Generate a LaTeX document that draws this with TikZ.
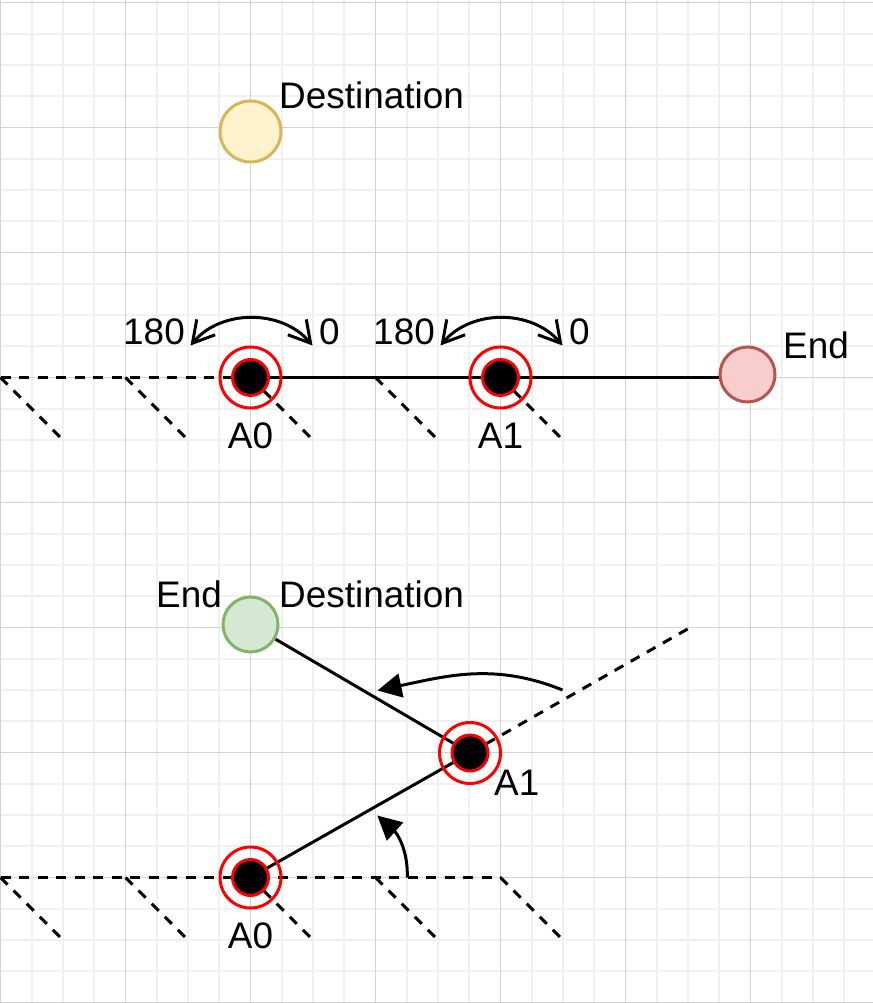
\documentclass[tikz,border=0pt]{standalone}
\usepackage{fontspec}
\setmainfont{Liberation Sans}
\usetikzlibrary{arrows.meta}
\pgfdeclarelayer{bg}
\pgfsetlayers{bg,main}
\definecolor{destfill}{HTML}{FFF2CC}
\definecolor{destline}{HTML}{D6B656}
\definecolor{endfill}{HTML}{F8CECC}
\definecolor{endline}{HTML}{B85450}
\definecolor{goalfill}{HTML}{D5E8D4}
\definecolor{goalline}{HTML}{82B366}
\definecolor{gridmajor}{HTML}{D2D2D2}
\definecolor{gridminor}{HTML}{F0F0F0}
\tikzset{
  txt/.style={font=\fontsize{10.5}{12}\selectfont,inner sep=0pt},
  joint/.style={circle,draw=red,minimum size=6.1mm,inner sep=0pt,line width=0.85pt,
    path picture={\draw[red,fill=black,line width=0.85pt] (path picture bounding box.center) circle (1.8mm);}},
  target/.style={circle,minimum size=5.5mm,inner sep=0pt,line width=0.85pt},
  ground/.style={line width=0.85pt,dash pattern=on 1mm off 0.85mm},
  link/.style={line width=0.85pt},
  swing/.style={line width=0.85pt,{Straight Barb[length=2.1mm,width=2.4mm]}-{Straight Barb[length=2.1mm,width=2.4mm]}},
  turn/.style={line width=0.85pt,-{Triangle[length=2.4mm,width=2.4mm]}}
}
\begin{document}
\begin{tikzpicture}[x=1.25cm,y=1.25cm]
	\useasboundingbox (-0.004,0.02) rectangle (6.98,-8.004);
	\begin{pgfonlayer}{bg}
		\draw[gridminor,line width=0.5pt,step=0.25] (0,0.016) grid (6.98,-8.004);
		\draw[gridmajor,line width=0.5pt,step=1] (0,0.016) grid (6.98,-8.004);
	\end{pgfonlayer}
	% straight arm
	\node[target,draw=destline,fill=destfill,minimum size=6.1mm] (dest) at (2,-1.032) {};
	\node[txt,anchor=base west] (destlbl) at (2.224,-0.848) {Destination};
	\node[joint] (a0) at (2,-3) {};
	\node[joint] (a1) at (4,-3) {};
	\node[target,draw=endline,fill=endfill] (end1) at (5.976,-2.976) {};
	\node[txt,anchor=base west] (end1lbl) at (6.256,-2.848) {End};
	\foreach\j/\n in{a0/A0,a1/A1}{
		\draw[swing] ([shift={(-0.48,0.256)}]\j.center) to[bend left=50] ([shift={(0.496,0.256)}]\j.center);
		\node[txt,anchor=base east] (\j lo) at ([shift={(-0.52,0.264)}]\j.center) {180};
		\node[txt,anchor=base west] (\j hi) at ([shift={(0.544,0.264)}]\j.center) {0};
		\node[txt,anchor=base] (\j lbl) at ([shift={(0,-0.568)}]\j.center) {\n};
	}
	\begin{pgfonlayer}{bg}
		\draw[ground] (0,-3) -- (4,-3);
		\foreach\x in{0,...,4}{\draw[ground] (\x,-3) -- ++(0.5,-0.5);}
		\draw[link] (a0.center) -- (a1.center) -- (a1.center -| end1.west);
	\end{pgfonlayer}
	% bent arm
	\node[target,draw=goalline,fill=goalfill] (end2) at (2,-4.976) {};
	\node[txt,anchor=base east] (end2lbl) at (1.776,-4.84) {End};
	\node[txt,anchor=base west] (dest2lbl) at (2.224,-4.84) {Destination};
	\node[joint] (b0) at (2,-7) {};
	\node[joint] (b1) at (3.756,-6.004) {};
	\node[txt,anchor=base] (b0lbl) at (2,-7.568) {A0};
	\node[txt,anchor=base west] (b1lbl) at (3.944,-6.344) {A1};
	\coordinate (reach) at (5.5,-5.01);
	\coordinate (sweep1) at (4.496,-5.5);
	\coordinate (sweep1tip) at (3.016,-5.504);
	\coordinate (sweep0) at (3.254,-7);
	\coordinate (sweep0tip) at (3.014,-6.504);
	\draw[turn] (sweep1) to[out=158,in=12] (sweep1tip);
	\draw[turn] (sweep0) to[out=88,in=-42] (sweep0tip);
	\begin{pgfonlayer}{bg}
		\draw[ground] (0,-7) -- (4,-7);
		\foreach\x in{0,...,4}{\draw[ground] (\x,-7) -- ++(0.5,-0.5);}
		\draw[ground] (b1.center) -- (reach);
		\draw[link] (b0.center) -- (b1.center) -- (end2);
	\end{pgfonlayer}
\end{tikzpicture}
\end{document}
